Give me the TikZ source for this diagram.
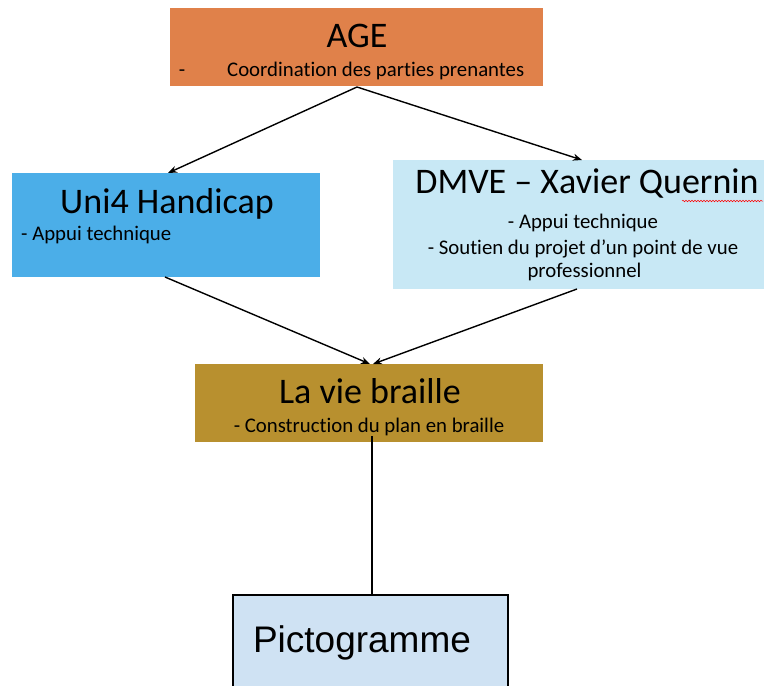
\documentclass[tikz,border=0pt]{standalone}
\usepackage{fontspec}
\setmainfont{Carlito}[Ligatures=NoCommon]
\newfontfamily\arialfont{Liberation Sans}
\usetikzlibrary{arrows.meta,decorations.pathmorphing}
\definecolor{agecol}{HTML}{E0814A}
\definecolor{unicol}{HTML}{4BAEE8}
\definecolor{dmvecol}{HTML}{C8E8F5}
\definecolor{viecol}{HTML}{B8902F}
\definecolor{pictocol}{HTML}{CFE2F3}
\begin{document}
\begin{tikzpicture}[x=1pt,y=-1pt,
  box/.style={rectangle,draw=none,inner sep=0pt,outer sep=0pt},
  ttl/.style={font=\fontsize{36}{40}\selectfont,anchor=base,inner sep=0pt},
  sub/.style={font=\fontsize{20.8}{24}\selectfont,anchor=base,inner sep=0pt},
  arr/.style={-{Stealth[length=9pt,width=7pt]},line width=1.4pt}]
\useasboundingbox (0,0) rectangle (764,686);
\clip (0,0) rectangle (764,686);
% boxes
\node[box,fill=agecol,minimum width=373pt,minimum height=78pt] (age) at (356.5,47) {};
\node[box,fill=unicol,minimum width=308pt,minimum height=104pt] (uni) at (166,225) {};
\node[box,fill=dmvecol,minimum width=371pt,minimum height=129pt] (dmve) at (578.5,224.5) {};
\node[box,fill=viecol,minimum width=348pt,minimum height=78pt] (vie) at (369,403) {};
\node[box,draw=black,line width=1.5pt,fill=pictocol,minimum width=275pt,minimum height=120pt] (picto) at (370.5,655) {};
% texts
\node[ttl] (aget) at (357,47) {AGE};
\node[sub] (aged) at (182,76) {-};
\node[sub,anchor=base west] (ages) at (227,76) {Coordination des parties prenantes};
\node[ttl] (unit) at (167,213) {Uni4 Handicap};
\node[sub,anchor=base west] (unis) at (21,240) {- Appui technique};
\node[ttl] (dmvet) at (587,193) {DMVE – Xavier Quernin};
\node[sub] (dmves1) at (583,228) {- Appui technique};
\node[sub] (dmves2) at (583,254) {- Soutien du projet d’un point de vue};
\node[sub] (dmves3) at (584.5,277) {professionnel};
\node[ttl] (viet) at (370,403) {La vie braille};
\node[sub] (vies) at (369,432) {- Construction du plan en braille};
\node[anchor=base,inner sep=0pt,font=\arialfont\fontsize{37}{42}\selectfont] (pictot) at (362,652) {Pictogramme};
% spell-check underline
\coordinate (wv1) at (682,201);
\coordinate (wv2) at (763,201);
\draw[red,line width=0.5pt,decorate,decoration={snake,segment length=3pt,amplitude=0.8pt}] (wv1) -- (wv2);
% connectors
\coordinate (agebot) at (357,87);
\draw[arr] (agebot) -- ([xshift=2pt]uni.north);
\draw[arr] (agebot) -- ([xshift=3.5pt]dmve.north);
\draw[arr] ([xshift=-1pt]uni.south) -- ([xshift=1pt]vie.north);
\draw[arr] ([xshift=-1.5pt]dmve.south) -- ([xshift=4pt]vie.north);
\coordinate (vieline) at (372,436);
\draw[line width=1.4pt] (vieline) -- (vieline |- picto.north);
\end{tikzpicture}
\end{document}
